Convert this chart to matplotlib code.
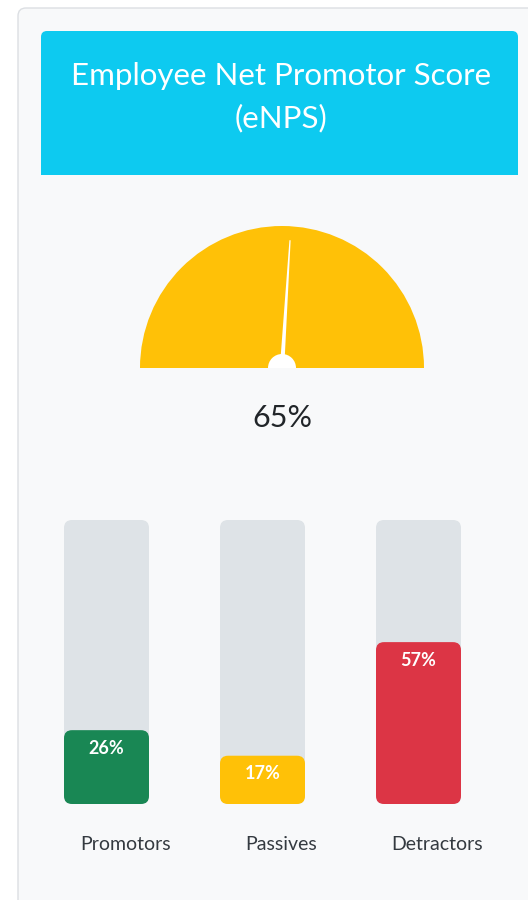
import numpy as np
import matplotlib.pyplot as plt
from matplotlib.patches import FancyBboxPatch, Rectangle, Wedge, Polygon

# ---------------- Data ---------------- #
title = "Employee Net Promotor Score\n(eNPS)"
gauge_value = 65          # shown under the gauge
needle_pct = 52           # where the needle points (0 = left, 100 = right)
categories = ["Promotors", "Passives", "Detractors"]
shares = [26, 17, 57]
bar_colors = ["#198754", "#ffc107", "#dc3545"]

# ---------------- Style ---------------- #
plt.rcParams['font.family'] = ['Lato', 'DejaVu Sans']
W, H = 528, 900
card_bg = "#f8f9fa"
track_color = "#dee3e7"
header_color = "#0dcaf0"
text_dark = "#212529"

fig = plt.figure(figsize=(W / 100, H / 100), dpi=100)
fig.patch.set_facecolor("white")

# background axes in pixel units (y down)
bg = fig.add_axes([0, 0, 1, 1])
bg.set_xlim(0, W)
bg.set_ylim(H, 0)
bg.axis('off')

# card
bg.add_patch(FancyBboxPatch((18, 8), 600, 1000, boxstyle="round,pad=0,rounding_size=8",
                            facecolor=card_bg, edgecolor="#dcdfe3", linewidth=1))

# header
bg.add_patch(FancyBboxPatch((41, 31), 477, 144, boxstyle="round,pad=0,rounding_size=6",
                            facecolor=header_color, edgecolor="none"))
bg.add_patch(Rectangle((41, 100), 477, 75, facecolor=header_color, edgecolor="none"))
bg.text(281, 97, title, ha='center', va='center', color='white', fontsize=22.5,
        linespacing=1.6)

# gauge
cx, cy, R = 282, 368, 142
bg.add_patch(Wedge((cx, cy), R, 180, 360, facecolor="#ffc107", edgecolor="none"))
ang = np.pi * (1 - needle_pct / 100)
L = 128
ux, uy = np.cos(ang), -np.sin(ang)
px, py = -uy, ux
needle = [(cx + px * 2.2, cy + py * 2.2), (cx - px * 2.2, cy - py * 2.2),
          (cx + ux * L - px * 0.6, cy + uy * L - py * 0.6),
          (cx + ux * L + px * 0.6, cy + uy * L + py * 0.6)]
bg.add_patch(Polygon(needle, closed=True, facecolor="white", edgecolor="none"))
bg.add_patch(Wedge((cx, cy), 14, 180, 360, facecolor="white", edgecolor="none"))
bg.text(cx, 418, f"{gauge_value}%", ha='center', va='center', color=text_dark, fontsize=22)

# ---------------- Bars ---------------- #
spacing = 156
bx = fig.add_axes([(106.5 - spacing / 2) / W, 96 / H, 3 * spacing / W, 284 / H])
bx.set_xlim(-0.5, 2.5)
bx.set_ylim(0, 100)
bx.axis('off')
bar_w = 85 / spacing
aspect = (100 / 284) / (1 / spacing)
r = 8 / spacing

for i, (cat, v, c) in enumerate(zip(categories, shares, bar_colors)):
    bx.add_patch(FancyBboxPatch((i - bar_w / 2, 0), bar_w, 100,
                                boxstyle=f"round,pad=0,rounding_size={r}",
                                mutation_aspect=aspect, facecolor=track_color, edgecolor="none"))
    bx.add_patch(FancyBboxPatch((i - bar_w / 2, 0), bar_w, v,
                                boxstyle=f"round,pad=0,rounding_size={r}",
                                mutation_aspect=aspect, facecolor=c, edgecolor="none"))
    bx.annotate(f"{v}%", (i, v), xytext=(0, -18), textcoords='offset pixels',
                ha='center', va='center', color='white', fontsize=13, fontweight='bold')
    bx.annotate(cat, (i, 0), xytext=(19, -40), textcoords='offset pixels',
                ha='center', va='center', color="#343a40", fontsize=14)

fig.savefig("out.png", dpi=100, facecolor=fig.get_facecolor())
